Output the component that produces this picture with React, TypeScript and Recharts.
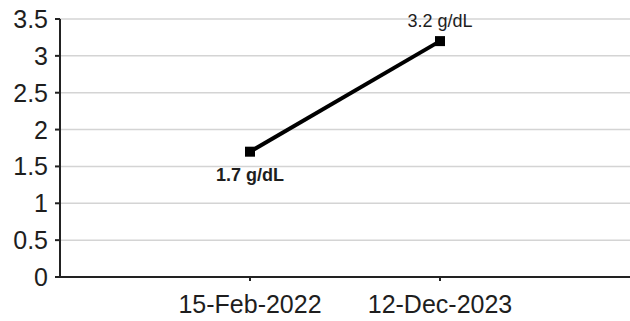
import React from 'react';
import {
    CartesianGrid,
    Line,
    LineChart,
    XAxis,
    YAxis,
} from 'recharts';

// test dates and albumin results
const dates = ['15-Feb-2022', '12-Dec-2023'];
const values = [1.7, 3.2];
const unit = 'g/dL';
const yTicks = [0, 0.5, 1, 1.5, 2, 2.5, 3, 3.5];

const data = dates.map((d, i) => ({pos: i + 1, date: d, value: values[i]}));

const FONT = '"Liberation Sans", Arial, sans-serif';
const INK = '#1e1e1e';

const SquareDot = (props: any) => {
    const {cx, cy} = props;
    if (cx == null || cy == null) return null;
    return <rect x={cx - 5} y={cy - 5} width={10} height={10} fill="#000" />;
};

const YTick = (props: any) => {
    const {x, y, payload} = props;
    return (
        <text x={x} y={y} dy="0.36em" textAnchor="end" fontFamily={FONT} fontSize={25} fill={INK}>
            {payload.value}
        </text>
    );
};

const XTick = (props: any) => {
    const {x, y, payload} = props;
    return (
        <text x={x} y={y} dy="0.72em" textAnchor="middle" fontFamily={FONT} fontSize={25} fill={INK}>
            {dates[payload.value - 1]}
        </text>
    );
};

// first reading sits below its point in bold, the later one above
const ValueLabel = (props: any) => {
    const {x, y, index, value} = props;
    const below = index === 0;
    return (
        <text
            x={x}
            y={below ? y + 29 : y - 14}
            textAnchor="middle"
            fontFamily={FONT}
            fontSize={18}
            fontWeight={below ? 'bold' : 'normal'}
            fill={INK}
        >
            {`${value} ${unit}`}
        </text>
    );
};

const App = () => {
    return (
        <div style={{position: 'absolute', left: 0, top: 0, background: '#fff'}}>
            <LineChart
                width={630}
                height={321}
                data={data}
                margin={{top: 19, right: 0, bottom: 0, left: 0}}
            >
                <CartesianGrid vertical={false} stroke="#d4d4d4" strokeWidth={1.5} />
                <XAxis
                    dataKey="pos"
                    type="number"
                    domain={[0, 3]}
                    ticks={[1, 2]}
                    height={44}
                    stroke="#222"
                    strokeWidth={2}
                    tickSize={4}
                    tickMargin={14}
                    tick={<XTick />}
                />
                <YAxis
                    type="number"
                    domain={[0, 3.5]}
                    ticks={yTicks}
                    width={60}
                    stroke="#222"
                    strokeWidth={2}
                    tickSize={5}
                    tickMargin={7}
                    tick={<YTick />}
                />
                <Line
                    dataKey="value"
                    stroke="#000"
                    strokeWidth={4}
                    dot={<SquareDot />}
                    activeDot={false}
                    label={<ValueLabel />}
                    isAnimationActive={false}
                />
            </LineChart>
        </div>
    );
};

export default App;
